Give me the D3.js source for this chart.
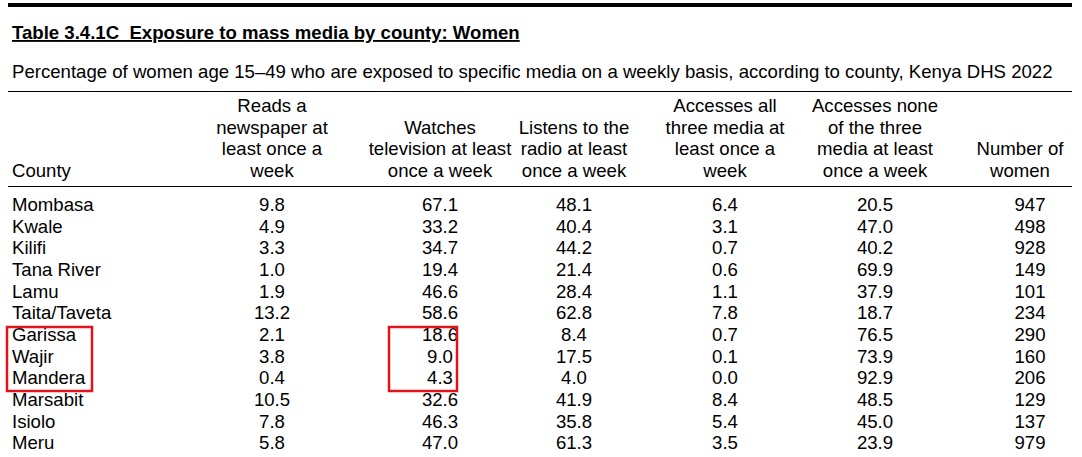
<!DOCTYPE html><html><head><meta charset="utf-8"><script src="https://cdn.jsdelivr.net/npm/d3@7"></script>
<style>body{margin:0;background:#fff}text{font-family:"Liberation Sans",Arial,sans-serif;font-size:18.6px;fill:#000}</style></head><body><svg id="c" width="1082" height="457"></svg><script>
const counties=["Mombasa","Kwale","Kilifi","Tana River","Lamu","Taita/Taveta","Garissa","Wajir","Mandera","Marsabit","Isiolo","Meru"];
const newspaper=["9.8","4.9","3.3","1.0","1.9","13.2","2.1","3.8","0.4","10.5","7.8","5.8"];
const television=["67.1","33.2","34.7","19.4","46.6","58.6","18.6","9.0","4.3","32.6","46.3","47.0"];
const radio=["48.1","40.4","44.2","21.4","28.4","62.8","8.4","17.5","4.0","41.9","35.8","61.3"];
const allThree=["6.4","3.1","0.7","0.6","1.1","7.8","0.7","0.1","0.0","8.4","5.4","3.5"];
const noneOf=["20.5","47.0","40.2","69.9","37.9","18.7","76.5","73.9","92.9","48.5","45.0","23.9"];
const numWomen=["947","498","928","149","101","234","290","160","206","129","137","979"];
const headers=[["County"],["Reads a","newspaper at","least once a","week"],["Watches","television at least","once a week"],["Listens to the","radio at least","once a week"],["Accesses all","three media at","least once a","week"],["Accesses none","of the three","media at least","once a week"],["Number of","women"]];
const highlighted=["Garissa","Wajir","Mandera"];
const svg=d3.select("#c");
const y=d3.scaleBand().domain(counties).range([194,454]).padding(0);
const cols=[newspaper,television,radio,allThree,noneOf,numWomen];
const cx=[272,440,574,725,875,1030];
svg.append("rect").attr("x",8).attr("y",3).attr("width",1064).attr("height",4).attr("fill","#000");
svg.append("text").attr("x",12).attr("y",39).style("font-weight","bold").attr("text-decoration","underline").text("Table 3.4.1C\u00a0\u00a0Exposure to mass media by county: Women");
svg.append("text").attr("x",12).attr("y",78).text("Percentage of women age 15–49 who are exposed to specific media on a weekly basis, according to county, Kenya DHS 2022");
svg.append("line").attr("x1",8).attr("x2",1072).attr("y1",91.5).attr("y2",91.5).attr("stroke","#000");
svg.append("line").attr("x1",8).attr("x2",1072).attr("y1",186.5).attr("y2",186.5).attr("stroke","#000");
headers.forEach((h,i)=>{const n=h.length;h.forEach((l,j)=>{const t=svg.append("text").attr("y",177-(n-1-j)*21.7).text(l);
 if(i==0)t.attr("x",12);else if(i==6)t.attr("x",1020).attr("text-anchor","middle");else t.attr("x",cx[i-1]).attr("text-anchor","middle");});});
counties.forEach((c,r)=>{const yy=y(c)+y.bandwidth()/2+6;
 svg.append("text").attr("x",12).attr("y",yy).text(c);
 cols.forEach((col,k)=>{svg.append("text").attr("y",yy).attr("x",cx[k]).attr("text-anchor","middle").text(col[r]);});});
const y0=y(highlighted[0])+3,y1=y(highlighted[2])+y.bandwidth()+2;
svg.append("rect").attr("x",7).attr("y",y0).attr("width",85).attr("height",y1-y0).attr("fill","none").attr("stroke","#e0141e").attr("stroke-width",2.5);
svg.append("rect").attr("x",389).attr("y",y0).attr("width",68).attr("height",y1-y0).attr("fill","none").attr("stroke","#e0141e").attr("stroke-width",2.5);
</script></body></html>
